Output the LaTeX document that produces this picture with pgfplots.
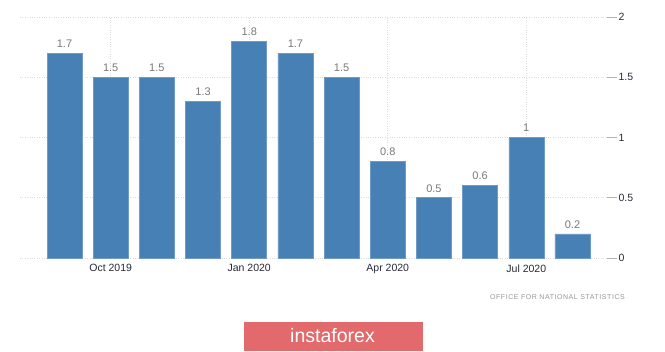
\documentclass[border=0pt]{standalone}
\usepackage{pgfplots}
\pgfplotsset{compat=1.18}
\usepackage{fontspec}
\setmainfont{Liberation Sans}
\definecolor{barblue}{RGB}{70,128,180}
\definecolor{baredge}{RGB}{110,156,198}
\definecolor{gridgray}{RGB}{220,220,220}
\definecolor{ticktext}{RGB}{40,40,55}
\definecolor{valgray}{RGB}{120,120,120}
\definecolor{srcgray}{RGB}{150,150,150}
\definecolor{boxred}{RGB}{226,106,108}
\begin{document}
\begin{tikzpicture}[x=1pt,y=1pt]
\useasboundingbox (0,0) rectangle (665,352);
\begin{axis}[
  at={(20pt,94pt)}, anchor=south west,
  scale only axis, width=597pt, height=241pt,
  xmin=-0.964, xmax=11.964, ymin=0, ymax=2,
  axis line style={draw=none},
  /pgf/number format/assume math mode=true,
  xtick={1,4,7,10},
  xticklabels={Oct 2019,Jan 2020,Apr 2020,Jul 2020},
  ytick={0,0.5,1,1.5,2},
  yticklabel pos=right,
  ytick pos=right,
  grid=major,
  major grid style={gridgray, dotted, line width=0.8pt},
  xtick style={draw=none},
  ytick style={draw=gray!60, line width=0.6pt},
  major tick length=10pt,
  tick align=inside,
  tick label style={font=\fontsize{10.5}{12}\selectfont, text=ticktext},
  xticklabel style={yshift=-3pt},
  yticklabel style={anchor=west, xshift=-2pt},
  clip=false,
]
\addplot[ybar, bar width=0.758, fill=barblue, draw=baredge, line width=0.6pt,
  nodes near coords,
  every node near coord/.append style={font=\fontsize{11}{12}\selectfont, text=valgray, yshift=2pt}]
  coordinates {(0,1.7) (1,1.5) (2,1.5) (3,1.3) (4,1.8) (5,1.7) (6,1.5) (7,0.8) (8,0.5) (9,0.6) (10,1) (11,0.2)};
\end{axis}
\node[anchor=east, text=srcgray, font=\fontsize{7}{8}\selectfont\addfontfeature{LetterSpace=8}, inner sep=0pt] at (625,55) {OFFICE\ FOR\ NATIONAL\ STATISTICS};
\fill[boxred] (244,1) rectangle (423,30);
\node[text=white, font=\fontsize{19.5}{22}\selectfont, inner sep=0pt] at (332.5,16) {instaforex};
\end{tikzpicture}
\end{document}
